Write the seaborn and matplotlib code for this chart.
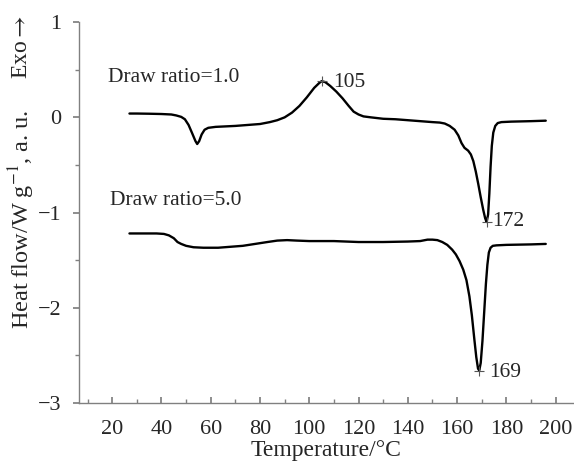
import matplotlib
matplotlib.use("Agg")
import matplotlib.pyplot as plt
import seaborn as sns
import pandas as pd
from matplotlib.ticker import MultipleLocator

# ---- data ----
t1 = [27, 30, 35, 40, 44, 46, 48, 49.5, 51, 52.5, 53.8, 54.5, 55.3, 56.3, 57.5, 59,
      62, 66, 70, 75, 80, 84, 87, 90, 93, 96, 99, 102, 104, 105, 106.5, 108.5, 111,
      113.5, 116, 118, 120, 122, 125, 130, 135, 140, 145, 150, 153, 155, 157, 159,
      160.5, 161.8, 163, 164.5, 165.6, 166.6, 167.6, 168.6, 169.6, 170.6, 171.4, 172,
      172.6, 173.1, 173.6, 174.1, 174.7, 175.5, 176.5, 178, 182, 190, 196]
hf1 = [0.04, 0.04, 0.038, 0.035, 0.03, 0.02, 0.005, -0.02, -0.08, -0.17, -0.25, -0.28,
       -0.25, -0.18, -0.13, -0.11, -0.10, -0.095, -0.09, -0.08, -0.07, -0.05, -0.03,
       0.0, 0.05, 0.12, 0.21, 0.31, 0.36, 0.38, 0.37, 0.33, 0.27, 0.2, 0.12, 0.06,
       0.03, 0.01, 0.0, -0.015, -0.02, -0.03, -0.04, -0.05, -0.055, -0.065, -0.09,
       -0.13, -0.19, -0.27, -0.32, -0.35, -0.39, -0.46, -0.57, -0.7, -0.84, -0.97,
       -1.06, -1.10, -1.02, -0.8, -0.52, -0.3, -0.16, -0.09, -0.06, -0.05, -0.045,
       -0.04, -0.035]
t2 = [27, 32, 38, 41, 43, 45, 46.5, 48, 50, 53, 57, 63, 68, 73, 78, 83, 87, 91, 95,
      100, 110, 120, 130, 140, 145, 148, 150, 152, 154, 156, 158, 159.5, 161, 162.5,
      163.8, 165, 166, 167, 167.8, 168.5, 169, 169.6, 170.3, 171, 171.7, 172.3, 172.9,
      173.6, 174.5, 176, 180, 190, 196]
hf2 = [-1.22, -1.22, -1.22, -1.225, -1.24, -1.27, -1.31, -1.33, -1.35, -1.365, -1.37,
       -1.37, -1.36, -1.35, -1.33, -1.31, -1.295, -1.29, -1.295, -1.30, -1.30, -1.31,
       -1.31, -1.305, -1.30, -1.285, -1.285, -1.29, -1.31, -1.34, -1.39, -1.44, -1.51,
       -1.6, -1.71, -1.88, -2.08, -2.33, -2.52, -2.64, -2.66, -2.58, -2.35, -2.05,
       -1.75, -1.55, -1.42, -1.37, -1.35, -1.345, -1.34, -1.335, -1.33]
peak_t = [105, 172, 169]
peak_hf = [0.38, -1.10, -2.66]
peak_labels = ["105", "172", "169"]
series_labels = ["Draw ratio=1.0", "Draw ratio=5.0"]

df = pd.concat([
    pd.DataFrame({"T": t1, "HF": hf1, "s": series_labels[0]}),
    pd.DataFrame({"T": t2, "HF": hf2, "s": series_labels[1]}),
])

sns.set_theme(style="ticks")
plt.rcParams['font.family'] = ['Liberation Serif', 'DejaVu Serif']
plt.rcParams['mathtext.fontset'] = 'stix'

fig = plt.figure(figsize=(5.74, 4.62), dpi=100)
ax = fig.add_axes([0.138, 0.128, 0.86, 0.824])

sns.lineplot(data=df, x="T", y="HF", units="s", estimator=None, sort=False,
             color="black", lw=1.7, ax=ax, legend=False)
ax.plot(peak_t, peak_hf, ls="none", marker="+", ms=7, mew=0.8, color="#555555")

ax.set_xlim(6.6, 207)
ax.set_ylim(-3, 1.0)
ax.set_xticks([20, 40, 60, 80, 100, 120, 140, 160, 180, 200])
ax.xaxis.set_minor_locator(MultipleLocator(10))
ax.yaxis.set_major_locator(MultipleLocator(1))
ax.yaxis.set_minor_locator(MultipleLocator(0.5))
for sp in ["top", "right"]:
    ax.spines[sp].set_visible(False)
for sp in ["left", "bottom"]:
    ax.spines[sp].set_color("#808080")
    ax.spines[sp].set_linewidth(1.0)
ax.tick_params(axis="x", which="both", direction="in", color="#808080", labelsize=16, pad=12)
ax.tick_params(axis="x", which="major", length=4)
ax.tick_params(axis="x", which="minor", length=3)
ax.tick_params(axis="y", which="both", direction="out", color="#808080", labelsize=16, pad=9)
ax.tick_params(axis="y", which="major", length=4)
ax.tick_params(axis="y", which="minor", length=3)

ax.set_xlabel("Temperature/°C", fontsize=17, labelpad=1)
ax.set_ylabel("")
fig.text(0.038, 0.526, "Heat flow/W g$^{-1}$, a. u.", rotation=90, fontsize=17.5,
         ha="center", va="center")
fig.text(0.038, 0.898, "Exo$\\rightarrow$", rotation=90, fontsize=17, ha="center", va="center")

ax.text(18.4, 0.42, series_labels[0], fontsize=15.5, ha="left", va="center")
ax.text(19.2, -0.87, series_labels[1], fontsize=15.5, ha="left", va="center")
ax.text(109.6, 0.37, peak_labels[0], fontsize=15.5, ha="left", va="center")
ax.text(174.3, -1.09, peak_labels[1], fontsize=15.5, ha="left", va="center")
ax.text(173.2, -2.68, peak_labels[2], fontsize=15.5, ha="left", va="center")

fig.savefig("out.png", dpi=100)
